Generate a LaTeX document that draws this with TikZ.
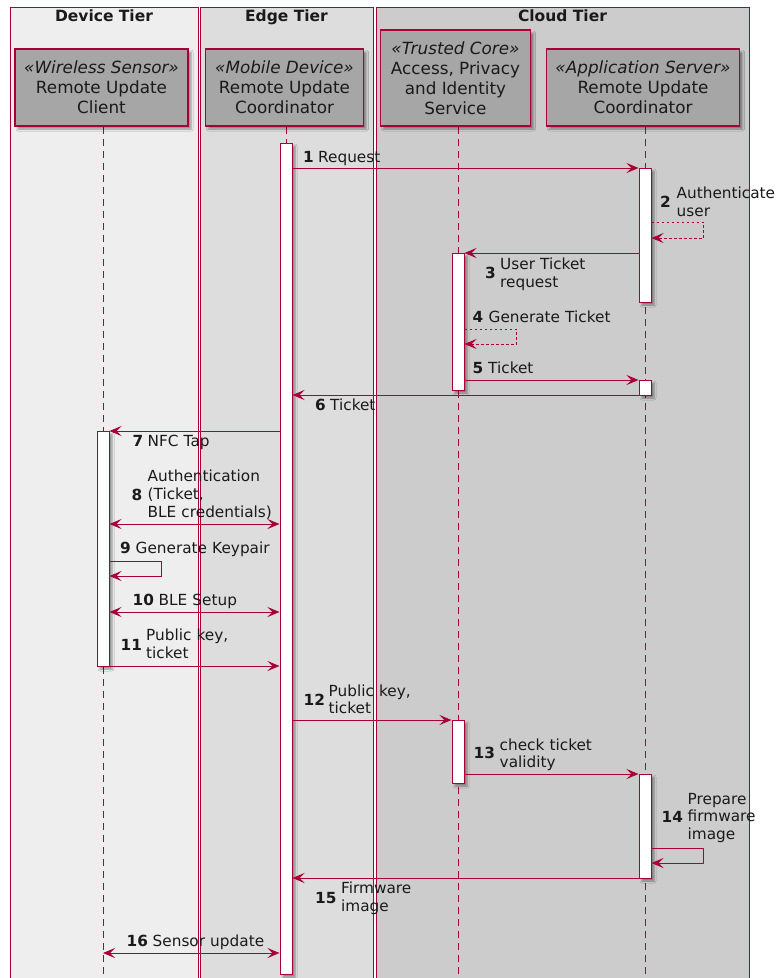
\documentclass[tikz,border=0pt]{standalone}
\usepackage{fontspec}
\setmainfont{DejaVu Sans}
\usetikzlibrary{arrows.meta,shadows.blur}

\definecolor{umlred}{HTML}{A80036}
\definecolor{tierdev}{HTML}{EEEEEE}
\definecolor{tieredge}{HTML}{DDDDDD}
\definecolor{tiercloud}{HTML}{CCCCCC}
\definecolor{partfill}{HTML}{A6A6A6}
\definecolor{inktext}{HTML}{1A1A1A}

\newcommand{\msgfont}{\fontsize{15.3}{17.9}\selectfont}
\newcommand{\partfont}{\fontsize{16.8}{20}\selectfont}

\tikzset{
  >={Stealth[length=12pt,width=10pt,inset=5pt]},
  boxshadow/.style={blur shadow={shadow xshift=3pt,shadow yshift=-3pt,shadow blur radius=2pt,shadow opacity=40}},
  tier/.style={draw=umlred, line width=1pt},
  tiertitle/.style={font=\fontsize{15.5}{18}\selectfont\bfseries, text=inktext, anchor=base, inner sep=0pt},
  participant/.style={draw=umlred, line width=1.2pt, fill=partfill, align=center,
    font=\partfont, text=inktext, inner sep=0pt, boxshadow},
  lifeline/.style={draw=umlred, line width=1pt, dash pattern=on 7pt off 5pt},
  activation/.style={draw=umlred, fill=white, line width=1pt, inner sep=0pt,
    minimum width=12pt, boxshadow},
  msg/.style={draw=umlred, line width=1pt, ->},
  bimsg/.style={draw=umlred, line width=1pt, <->},
  reply/.style={msg, dash pattern=on 2.5pt off 2.5pt},
  seqno/.style={font=\msgfont\bfseries, text=inktext, anchor=base west, inner sep=0pt},
  seqtxt/.style={font=\msgfont, text=inktext, anchor=base west, inner sep=0pt, text width=200pt, align=left},
}

\begin{document}
\begin{tikzpicture}[x=1pt,y=-1pt]
  \useasboundingbox (0,0) rectangle (776,978);
  \fill[white] (0,0) rectangle (776,978);

  % tiers
  \filldraw[tier, fill=tierdev]   (10,7)  rectangle (198,995);
  \filldraw[tier, fill=tieredge]  (200,7) rectangle (373,995);
  \filldraw[tier, fill=tiercloud] (376,7) rectangle (749,995);
  \node[tiertitle] (tt1) at (104,21)   {Device Tier};
  \node[tiertitle] (tt2) at (286.5,21) {Edge Tier};
  \node[tiertitle] (tt3) at (562.5,21) {Cloud Tier};

  % lifelines
  \coordinate (l1) at (103,978);
  \coordinate (l2) at (286,978);
  \coordinate (l3) at (458,978);
  \coordinate (l4) at (645,978);
  \draw[lifeline] (103,127) -- (l1);
  \draw[lifeline] (286,127) -- (l2);
  \draw[lifeline] (458,127) -- (l3);
  \draw[lifeline] (645,127) -- (l4);

  % participants
  \node[participant, minimum width=173pt, minimum height=77pt] (p1) at (101.5,87.5)
    {\textit{«Wireless Sensor»}\\Remote Update\\Client};
  \node[participant, minimum width=158pt, minimum height=77pt] (p2) at (284.5,87.5)
    {\textit{«Mobile Device»}\\Remote Update\\Coordinator};
  \node[participant, minimum width=150pt, minimum height=96pt] (p3) at (455.5,78)
    {\textit{«Trusted Core»}\\Access, Privacy\\and Identity\\Service};
  \node[participant, minimum width=193pt, minimum height=77pt] (p4) at (643,87.5)
    {\textit{«Application Server»}\\Remote Update\\Coordinator};

  % activation bars
  \node[activation, minimum height=831pt] (a2)  at (286,558.5) {};
  \node[activation, minimum height=134pt] (a4a) at (645,235) {};
  \node[activation, minimum height=137pt] (a3a) at (458,321.5) {};
  \node[activation, minimum height=15pt]  (a4b) at (645,387.5) {};
  \node[activation, minimum height=235pt] (a1)  at (103,548.5) {};
  \node[activation, minimum height=63pt]  (a3b) at (458,751.5) {};
  \node[activation, minimum height=104pt] (a4c) at (645,826) {};

  % messages
  \draw[msg]   (a2.east |- 0,168) -- (a4a.west |- 0,168);
  \draw[reply] (a4a.east |- 0,222) -- ++(52,0) -- ++(0,16) -- (a4a.east |- 0,238);
  \draw[msg]   (a4a.west |- 0,253) -- (a3a.east |- 0,253);
  \draw[reply] (a3a.east |- 0,329) -- ++(52,0) -- ++(0,15) -- (a3a.east |- 0,344);
  \draw[msg]   (a3a.east |- 0,380) -- (a4b.west |- 0,380);
  \draw[msg]   (a4b.west |- 0,395) -- (a2.east |- 0,395);
  \draw[msg]   (a2.west |- 0,431) -- (a1.east |- 0,431);
  \draw[bimsg] (a1.east |- 0,524) -- (a2.west |- 0,524);
  \draw[msg]   (a1.east |- 0,561) -- ++(52,0) -- ++(0,15) -- (a1.east |- 0,576);
  \draw[bimsg] (a1.east |- 0,612) -- (a2.west |- 0,612);
  \draw[msg]   (a1.east |- 0,666) -- (a2.west |- 0,666);
  \draw[msg]   (a2.east |- 0,720) -- (a3b.west |- 0,720);
  \draw[msg]   (a3b.east |- 0,774) -- (a4c.west |- 0,774);
  \draw[msg]   (a4c.east |- 0,848) -- ++(52,0) -- ++(0,15) -- (a4c.east |- 0,863);
  \draw[msg]   (a4c.west |- 0,878) -- (a2.east |- 0,878);
  \draw[bimsg] (l1 |- 0,953) -- (a2.west |- 0,953);

  % message labels
  \node[seqno] (n1)  at (303,162)   {1};
  \node[seqtxt] (t1) at (318,162)   {Request};
  \node[seqno] (n2)  at (660,207)   {2};
  \node[seqtxt] (t2) at (676.5,198.5) {Authenticate\\user};
  \node[seqno] (n3)  at (485,278)   {3};
  \node[seqtxt] (t3) at (500,269.5) {User Ticket\\request};
  \node[seqno] (n4)  at (472.5,322) {4};
  \node[seqtxt] (t4) at (488.5,322) {Generate Ticket};
  \node[seqno] (n5)  at (472.5,373.5) {5};
  \node[seqtxt] (t5) at (488,373.5) {Ticket};
  \node[seqno] (n6)  at (315,410)   {6};
  \node[seqtxt] (t6) at (330,410)   {Ticket};
  \node[seqno] (n7)  at (132.5,446) {7};
  \node[seqtxt] (t7) at (147.5,446) {NFC Tap};
  \node[seqno] (n8)  at (131.5,500) {8};
  \node[seqtxt] (t8) at (147.5,481.5) {Authentication\\(Ticket,\\BLE credentials)};
  \node[seqno] (n9)  at (120,553.5) {9};
  \node[seqtxt] (t9) at (135.5,553.5) {Generate Keypair};
  \node[seqno] (n10) at (132.5,605) {10};
  \node[seqtxt] (t10) at (158.5,605) {BLE Setup};
  \node[seqno] (n11) at (120.5,650.5) {11};
  \node[seqtxt] (t11) at (146,640.5) {Public key,\\ticket};
  \node[seqno] (n12) at (303.5,705) {12};
  \node[seqtxt] (t12) at (328.5,696) {Public key,\\ticket};
  \node[seqno] (n13) at (473.5,758.5) {13};
  \node[seqtxt] (t13) at (499.5,750) {check ticket\\validity};
  \node[seqno] (n14) at (661.5,822) {14};
  \node[seqtxt] (t14) at (687.5,804) {Prepare\\firmware\\image};
  \node[seqno] (n15) at (315,903) {15};
  \node[seqtxt] (t15) at (341,893.5) {Firmware\\image};
  \node[seqno] (n16) at (126.5,946.5) {16};
  \node[seqtxt] (t16) at (152.5,946.5) {Sensor update};
\end{tikzpicture}
\end{document}
